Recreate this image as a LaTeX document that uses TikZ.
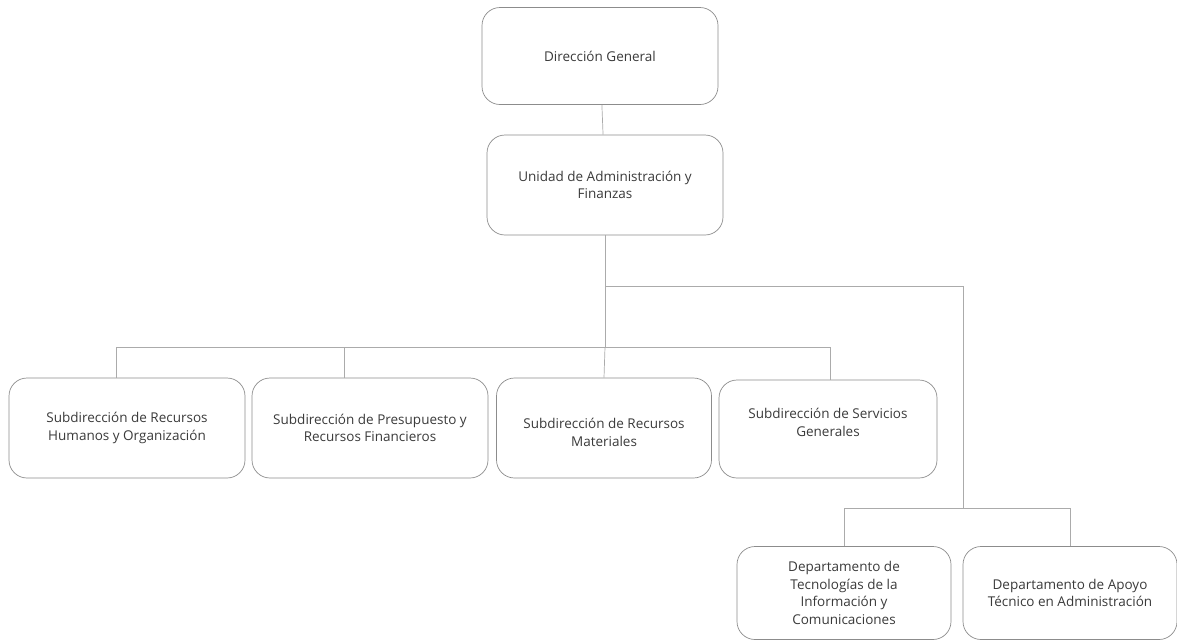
\documentclass[tikz,border=0pt]{standalone}
\usepackage{fontspec}
\setmainfont{Open Sans}
\usepackage{xcolor}
\usepackage{tikz}
\usetikzlibrary{calc, positioning}
\definecolor{boxgray}{HTML}{8C8C8C}
\definecolor{linegray}{HTML}{ABABAB}
\definecolor{textgray}{HTML}{3A3A3A}
\tikzstyle{link} = [draw=linegray, line width=0.7pt]

\begin{document}
\begin{tikzpicture}[
    x=1pt, y=-1pt,
    unit/.style={draw=boxgray, line width=0.7pt, rounded corners=18pt, align=center,
      text=textgray, font=\fontsize{13.5}{17.5}\selectfont, inner sep=2pt},
    sub/.style={unit, minimum width=236pt, minimum height=100pt},
    dept/.style={unit, minimum width=214pt, minimum height=93pt},
  ]
  \useasboundingbox (0,0) rectangle (1177,641);
  % top levels
  \node[unit, minimum width=236pt, minimum height=97pt] (dg) at (600,56) {Dirección General};
  \node[unit, minimum width=236pt, minimum height=100pt] (uaf) at (605,185)
    {Unidad de Administración y\\Finanzas};
  % subdirecciones
  \node[sub] (srh) at (127,428) {Subdirección de Recursos\\Humanos y Organización};
  \node[sub] (spr) at (370,428) {Subdirección de Presupuesto y\\Recursos Financieros};
  \node[sub, minimum width=215pt] (srm) at (604,428) {\\[2pt]Subdirección de Recursos\\Materiales};
  \node[sub, minimum width=218pt, minimum height=98pt] (ssg) at (828,429) {Subdirección de Servicios\\Generales\\[-4pt]\mbox{}};
  % departamentos
  \node[dept] (dti) at (844,593) {Departamento de\\Tecnologías de la\\Información y\\Comunicaciones};
  \node[dept] (dat) at (1070,593) {Departamento de Apoyo\\Técnico en Administración};
  % connectors
  \coordinate (bus) at (605,347);
  \coordinate (side) at (963,286);
  \coordinate (dbus) at (963,508);
  \draw[link] (dg) -- (uaf);
  \draw[link] (uaf.south) -- (bus);
  \draw[link] (uaf.south |- side) -- (side) -- (dbus);
  \draw[link] ([xshift=-11pt]srh.north) |- ([xshift=2pt]ssg.north |- bus) -- ([xshift=2pt]ssg.north);
  \draw[link] ([xshift=-26pt]spr.north) -- ([xshift=-26pt]spr.north |- bus);
  \draw[link] (bus) -- (srm.north);
  \draw[link] (dti.north) |- (dbus) -| (dat.north);
\end{tikzpicture}
\end{document}
